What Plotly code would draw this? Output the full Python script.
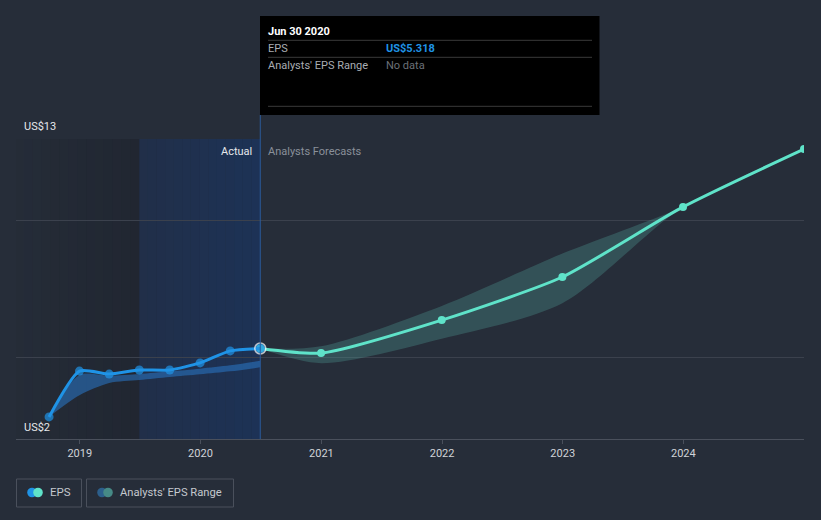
import plotly.graph_objects as go
import numpy as np

# ---------------- data ----------------
hist_dates = ["2018-09-30", "2018-12-31", "2019-03-31", "2019-06-30",
              "2019-09-30", "2019-12-31", "2020-03-31", "2020-06-30"]
hist_eps = [2.81, 4.49, 4.38, 4.53, 4.53, 4.79, 5.23, 5.318]
hist_range_high = [2.81, 4.35, 4.32, 4.38, 4.48, 4.58, 4.70, 4.87]
hist_range_low = [2.81, 3.60, 4.05, 4.16, 4.27, 4.37, 4.48, 4.63]

fc_dates = ["2020-06-30", "2020-12-31", "2021-12-31", "2022-12-31",
            "2023-12-31", "2024-12-31"]
fc_eps = [5.318, 5.15, 6.36, 7.94, 10.51, 12.63]
fc_high = [5.318, 5.40, 6.88, 8.80, 10.51, 12.63]
fc_low = [5.318, 4.78, 5.68, 6.98, 10.51, 12.63]

x_ticks = ["2019-01-01", "2020-01-01", "2021-01-01", "2022-01-01",
           "2023-01-01", "2024-01-01"]
x_tick_text = ["2019", "2020", "2021", "2022", "2023", "2024"]
y_min, y_max = 2, 13
y_label_top, y_label_bottom = "US$13", "US$2"

tooltip_date = "Jun 30 2020"
tooltip_eps = "US$5.318"
tooltip_range = "No data"

# ---------------- style ----------------
BG = "#262d39"
BLUE = "#1f93e6"
TEAL = "#5fe3c9"
FONT = "Roboto"

W, H = 821, 520
PL, PR, PT, PB = 16, 804, 139, 439


def px(x):
    return (x - PL) / (PR - PL)


def py(y):
    return (PB - y) / (PB - PT)


fig = go.Figure()

# historical analysts range band
fig.add_trace(go.Scatter(x=hist_dates, y=hist_range_low, mode="lines",
                         line=dict(width=0, shape="spline", smoothing=0.8),
                         hoverinfo="skip", showlegend=False))
fig.add_trace(go.Scatter(x=hist_dates, y=hist_range_high, mode="lines",
                         line=dict(width=0, shape="spline", smoothing=0.8),
                         fill="tonexty", fillcolor="rgba(40,112,185,0.62)",
                         hoverinfo="skip", showlegend=False))

# forecast range band
fig.add_trace(go.Scatter(x=fc_dates, y=fc_low, mode="lines",
                         line=dict(width=0, shape="spline", smoothing=0.8),
                         hoverinfo="skip", showlegend=False))
fig.add_trace(go.Scatter(x=fc_dates, y=fc_high, mode="lines",
                         line=dict(width=0, shape="spline", smoothing=0.8),
                         fill="tonexty", fillcolor="rgba(85,175,165,0.28)",
                         hoverinfo="skip", showlegend=False))

# forecast EPS line
fig.add_trace(go.Scatter(x=fc_dates, y=fc_eps, mode="lines+markers",
                         line=dict(color=TEAL, width=3, shape="spline", smoothing=0.6),
                         marker=dict(color=TEAL, size=8),
                         hoverinfo="skip", showlegend=False))

# historical EPS line
last = len(hist_eps) - 1
fig.add_trace(go.Scatter(x=hist_dates, y=hist_eps, mode="lines+markers",
                         line=dict(color=BLUE, width=3, shape="spline", smoothing=0.6),
                         marker=dict(color=BLUE, size=[9] * last + [11],
                                     line=dict(color=["rgba(0,0,0,0)"] * last + ["#ffffff"],
                                               width=[0] * last + [1.5])),
                         hoverinfo="skip", showlegend=False))

shapes = []

# background shaded "actual" regions (gradients via stripes)
start = np.datetime64("2018-06-20")
mid = np.datetime64(hist_dates[3])
end = np.datetime64(hist_dates[-1])
n = 14
for i in range(n):
    a0 = start + (mid - start) * i // n
    a1 = start + (mid - start) * (i + 1) // n
    shapes.append(dict(type="rect", xref="x", yref="paper", x0=str(a0), x1=str(a1),
                       y0=0, y1=1, fillcolor="rgba(10,12,18,%.3f)" % (0.02 + 0.16 * i / (n - 1)),
                       line=dict(width=0), layer="below"))
for i in range(n):
    a0 = mid + (end - mid) * i // n
    a1 = mid + (end - mid) * (i + 1) // n
    shapes.append(dict(type="rect", xref="x", yref="paper", x0=str(a0), x1=str(a1),
                       y0=0, y1=1, fillcolor="rgba(20,55,115,%.3f)" % (0.28 + 0.22 * i / (n - 1)),
                       line=dict(width=0), layer="below"))

# vertical line at the current point
shapes.append(dict(type="line", xref="x", yref="paper", x0=hist_dates[-1], x1=hist_dates[-1],
                   y0=0, y1=py(115), line=dict(color="#2b5a99", width=1), layer="above"))

# tooltip box
shapes.append(dict(type="rect", xref="paper", yref="paper", x0=px(260), x1=px(599.5),
                   y0=py(115), y1=py(16), fillcolor="#000000", line=dict(width=0), layer="above"))
for yy in (40.3, 57.3, 106.3):
    shapes.append(dict(type="line", xref="paper", yref="paper", x0=px(268), x1=px(592),
                       y0=py(yy), y1=py(yy), line=dict(color="#3a3a3a", width=1), layer="above"))

# legend boxes
shapes.append(dict(type="rect", xref="paper", yref="paper", x0=px(16.5), x1=px(81.5),
                   y0=py(507), y1=py(479), line=dict(color="#4a505c", width=1),
                   fillcolor="rgba(0,0,0,0)", layer="above"))
shapes.append(dict(type="rect", xref="paper", yref="paper", x0=px(86.5), x1=px(233.5),
                   y0=py(507), y1=py(479), line=dict(color="#4a505c", width=1),
                   fillcolor="rgba(0,0,0,0)", layer="above"))


def circle(cx, cy, r, color):
    return dict(type="circle", xref="paper", yref="paper", x0=px(cx - r), x1=px(cx + r),
                y0=py(cy + r), y1=py(cy - r), fillcolor=color, line=dict(width=0), layer="above")


shapes.append(circle(32, 492.5, 4.8, BLUE))
shapes.append(circle(38, 492.5, 4.8, TEAL))
shapes.append(circle(102, 492.5, 4.8, "#2c5f8c"))
shapes.append(circle(108, 492.5, 4.8, "#468a86"))

annotations = []


def text(x, y, s, color, size=12, anchor="left", bold=False):
    annotations.append(dict(xref="paper", yref="paper", x=px(x), y=py(y),
                            text=("<b>%s</b>" % s) if bold else s,
                            showarrow=False, xanchor=anchor, yanchor="middle",
                            borderpad=0, borderwidth=0,
                            font=dict(family=FONT, size=size, color=color)))


text(24, 127, y_label_top, "#e6e8eb", 11)
text(24, 427, y_label_bottom, "#e6e8eb", 11)
text(252, 151, "Actual", "#e6e8eb", 11, anchor="right")
text(268, 151, "Analysts Forecasts", "#8a9099", 11)

text(268, 31.5, tooltip_date, "#ffffff", 11, bold=True)
text(268, 48.5, "EPS", "#a9adb3", 11)
text(386, 48.5, tooltip_eps, BLUE, 11, bold=True)
text(268, 65.5, "Analysts' EPS Range", "#a9adb3", 11)
text(386, 65.5, tooltip_range, "#6b7078", 11)

text(50, 492.5, "EPS", "#c4c8ce", 11.5)
text(120, 492.5, "Analysts' EPS Range", "#c4c8ce", 11.2)

fig.update_layout(
    width=W, height=H, autosize=False,
    margin=dict(l=PL, r=W - PR, t=PT, b=H - PB, pad=0),
    paper_bgcolor=BG, plot_bgcolor=BG,
    showlegend=False,
    shapes=shapes, annotations=annotations,
    hovermode=False,
    xaxis=dict(type="date", range=["2018-06-22", "2024-12-31"],
               tickvals=x_ticks, ticktext=x_tick_text,
               showgrid=False, zeroline=False,
               showline=True, linecolor="#4a505c", linewidth=1,
               ticks="outside", ticklen=4, tickcolor="#4a505c",
               tickfont=dict(family=FONT, size=11, color="#d0d3d8")),
    yaxis=dict(range=[y_min, y_max], tickvals=[5, 10, 13],
               showticklabels=False, showgrid=True, gridcolor="#3b414d", gridwidth=1,
               zeroline=False, showline=False, fixedrange=True),
)

fig.write_html("out.html", config={"displayModeBar": False},
               post_script="document.body.style.margin='0';document.body.style.overflow='hidden';document.body.style.background='%s';" % BG)
